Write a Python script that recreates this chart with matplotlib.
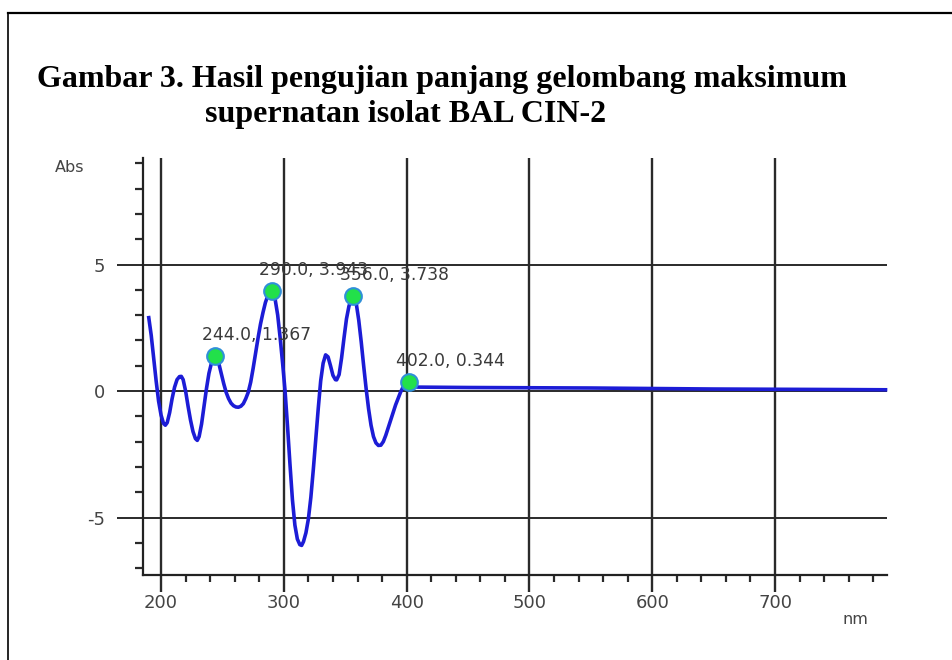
import matplotlib
matplotlib.use("Agg")
import matplotlib.pyplot as plt
from matplotlib.lines import Line2D

# ---- data ----
wavelength_nm = [190, 192, 194, 196, 198, 200, 202, 203.5, 205, 207, 209, 211, 213, 215, 216.5,
                 218, 220, 222, 224, 226, 228, 229.5, 231, 233, 235, 237, 239, 241, 243, 244,
                 245.5, 247, 249, 251, 253, 255, 257, 259, 261, 263, 265, 267, 269, 271, 273,
                 275, 277, 279, 281, 283, 285, 287, 289, 290, 291, 293, 295, 297, 299, 301,
                 303, 305, 307, 309, 311, 313, 314.5, 316, 318, 320, 322, 324, 326, 328, 330,
                 332, 334, 336, 338, 340, 342, 343, 345, 347, 349, 351, 353, 355, 356, 357,
                 359, 361, 363, 365, 367, 369, 371, 373, 375, 377, 379, 381, 383, 385, 387,
                 389, 391, 393, 395, 397, 399, 401, 402, 404, 406, 408, 410, 450, 500, 550,
                 600, 650, 700, 750, 790]
absorbance = [2.9, 2.2, 1.3, 0.4, -0.4, -0.95, -1.28, -1.35, -1.25, -0.85, -0.3, 0.15, 0.45, 0.57, 0.58,
              0.45, 0.0, -0.6, -1.15, -1.6, -1.88, -1.95, -1.8, -1.3, -0.6, 0.1, 0.7, 1.1, 1.32, 1.367,
              1.3, 1.1, 0.7, 0.3, -0.05, -0.3, -0.48, -0.58, -0.63, -0.64, -0.6, -0.5, -0.3, -0.05, 0.35,
              0.9, 1.5, 2.1, 2.65, 3.1, 3.5, 3.78, 3.93, 3.943, 3.92, 3.6, 3.0, 2.1, 1.1, 0.0,
              -1.4, -2.9, -4.3, -5.3, -5.85, -6.07, -6.1, -5.95, -5.6, -5.05, -4.2, -3.1, -1.9, -0.7, 0.4,
              1.1, 1.43, 1.35, 1.0, 0.62, 0.45, 0.44, 0.65, 1.3, 2.1, 2.85, 3.35, 3.65, 3.738, 3.72,
              3.45, 2.8, 1.95, 1.0, 0.1, -0.7, -1.35, -1.8, -2.05, -2.15, -2.14, -2.0, -1.75, -1.45, -1.15,
              -0.85, -0.55, -0.3, -0.05, 0.15, 0.28, 0.34, 0.344, 0.3, 0.2, 0.16, 0.155, 0.14, 0.13, 0.12,
              0.1, 0.08, 0.07, 0.06, 0.05]
peak_nm = [244.0, 290.0, 356.0, 402.0]
peak_abs = [1.367, 3.943, 3.738, 0.344]
x_major = [200, 300, 400, 500, 600, 700]
y_major = [-5, 0, 5]
title_lines = ["Gambar 3. Hasil pengujian panjang gelombang maksimum",
               "supernatan isolat BAL CIN-2"]

W, H = 953, 660
fig = plt.figure(figsize=(W / 100, H / 100), dpi=100)

# frame lines (top and left)
fig.add_artist(Line2D([8 / W, 1.0], [1 - 13 / H, 1 - 13 / H], color="black", lw=1.6))
fig.add_artist(Line2D([8 / W, 8 / W], [0, 1 - 13 / H], color="black", lw=1.2))

# title
fig.text(37 / W, 1 - 87 / H, title_lines[0], family="Liberation Serif", weight="bold",
         fontsize=23, ha="left", va="baseline", color="black")
fig.text(205 / W, 1 - 122 / H, title_lines[1], family="Liberation Serif", weight="bold",
         fontsize=23, ha="left", va="baseline", color="black")

ax_l, ax_r, ax_t, ax_b = 143, 887, 158, 575
ax = fig.add_axes([ax_l / W, 1 - ax_b / H, (ax_r - ax_l) / W, (ax_b - ax_t) / H])
ax.set_xlim(185.3, 791.2)
ax.set_ylim(-7.27, 9.21)

for s in ["top", "right"]:
    ax.spines[s].set_visible(False)
for s in ["left", "bottom"]:
    ax.spines[s].set_color("#222222")
    ax.spines[s].set_linewidth(1.6)

grid_c = "#2a2a2a"
for xv in x_major:
    ax.axvline(xv, color=grid_c, lw=1.7, zorder=1)
for yv in y_major:
    ax.axhline(yv, color=grid_c, lw=1.4, zorder=1)

ax.set_xticks(x_major)
ax.set_xticks(range(220, 791, 20), minor=True)
ax.set_yticks(y_major)
ax.set_yticks(range(-7, 10), minor=True)
ax.tick_params(axis="x", which="major", length=12, width=1.7, color=grid_c,
               labelsize=13, labelcolor="#444444", pad=2)
ax.tick_params(axis="x", which="minor", length=5, width=1.6, color=grid_c)
ax.tick_params(axis="y", which="major", length=19, width=1.4, color=grid_c,
               labelsize=13, labelcolor="#444444", pad=8)
ax.tick_params(axis="y", which="minor", length=6, width=1.6, color=grid_c)
ax.set_xticklabels([str(v) for v in x_major], family="DejaVu Sans")
ax.set_yticklabels([str(v) for v in y_major], family="DejaVu Sans")

ax.plot(wavelength_nm, absorbance, color="#1c1cd6", lw=2.6, zorder=3, clip_on=False)
ax.plot(peak_nm, peak_abs, linestyle="none", marker="o", markersize=12,
        markerfacecolor="#22e04a", markeredgecolor="#2f8fd8", markeredgewidth=1.5, zorder=4)
for px, py in zip(peak_nm, peak_abs):
    ax.annotate(f"{px:.1f}, {py:.3f}", (px, py), xytext=(-13, 12), textcoords="offset pixels",
                ha="left", va="bottom", fontsize=12.3, color="#3a3a3a",
                family="DejaVu Sans", zorder=5)

fig.text(55 / W, 1 - 168 / H, "Abs", family="DejaVu Sans", fontsize=11.5,
         color="#444444", ha="left", va="center")
fig.text(843 / W, 1 - 620 / H, "nm", family="DejaVu Sans", fontsize=11.5,
         color="#444444", ha="left", va="center")

fig.savefig("out.png", dpi=100)
